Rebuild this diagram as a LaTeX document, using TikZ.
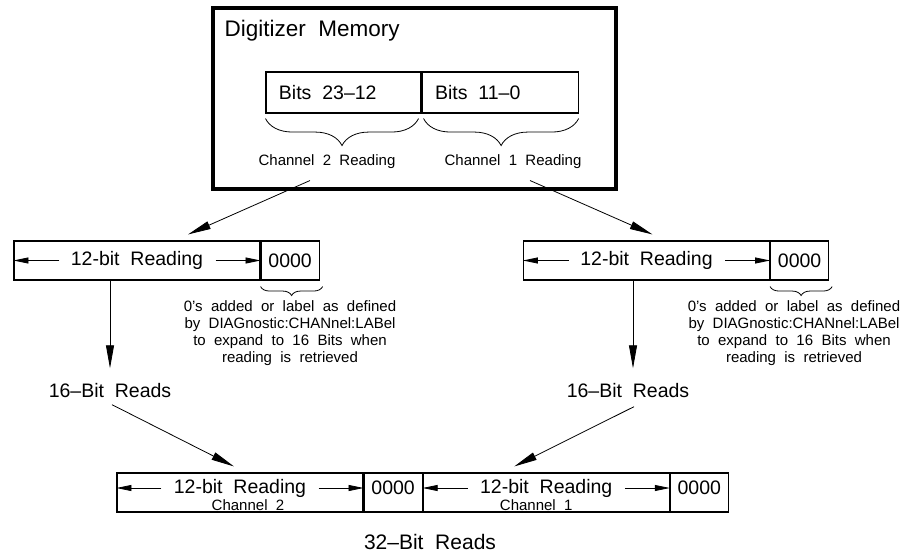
\documentclass[tikz,border=0pt]{standalone}
\usepackage{fontspec}
\setmainfont{Liberation Sans}[WordSpace=2]
\usetikzlibrary{arrows.meta,decorations.pathreplacing,positioning}
\tikzset{>={Triangle[length=23pt,width=8pt]}}
\tikzset{
  cell/.style={draw, line width=1.1pt, minimum height=39pt, inner sep=0pt},
  hdtxt/.style={font=\fontsize{22.5}{26}\selectfont},
  bigtxt/.style={font=\fontsize{19.5}{22}\selectfont},
  smalltxt/.style={font=\fontsize{15}{17}\selectfont},
  dimarrow/.style={-{Triangle[length=15pt,width=6pt]}, line width=0.8pt},
  flow/.style={->, line width=0.8pt},
  brc/.style={decorate, decoration={brace, mirror, amplitude=#1}, line width=0.8pt},
}

\begin{document}
\begin{tikzpicture}[x=1pt,y=-1pt]
\useasboundingbox (0,0) rectangle (912,556);

% digitizer memory
\node[draw, line width=3.2pt, minimum width=403pt, minimum height=181pt] (mem) at (414.5,98.5) {};
\node[hdtxt, anchor=base west] (memlbl) at (221,37) {Digitizer Memory};

\node[cell, minimum width=155pt, minimum height=41pt] (hibits) at (343.5,92.5) {};
\node[cell, minimum width=156pt, minimum height=41pt, right=0pt of hibits] (lobits) {};
\node[bigtxt, anchor=west] (hitxt) at ([xshift=10pt]hibits.west) {Bits 23--12};
\node[bigtxt, anchor=west] (lotxt) at ([xshift=10pt]lobits.west) {Bits 11--0};

\draw[brc=27pt] ([yshift=-5pt]hibits.south west) -- ([xshift=-3pt,yshift=-5pt]hibits.south east);
\draw[brc=27pt] ([xshift=2pt,yshift=-5pt]lobits.south west) -- ([yshift=-5pt]lobits.south east);

\node[smalltxt] (ch2lbl) at (327,162) {Channel 2 Reading};
\node[smalltxt] (ch1lbl) at (513,162) {Channel 1 Reading};

% 16-bit reads
\node[cell, minimum width=246pt] (rd2a) at (137,260.5) {};
\node[cell, minimum width=58pt, right=0pt of rd2a, bigtxt] (rd2b) {0000};
\node[bigtxt] (rd2t) at (rd2a.center) {12-bit Reading};
\draw[dimarrow] ([xshift=46pt]rd2a.west) -- (rd2a.west);
\draw[dimarrow] ([xshift=-45pt]rd2a.east) -- (rd2a.east);

\node[cell, minimum width=246pt] (rd1a) at (646.5,260.5) {};
\node[cell, minimum width=58pt, right=0pt of rd1a, bigtxt] (rd1b) {0000};
\node[bigtxt] (rd1t) at (rd1a.center) {12-bit Reading};
\draw[dimarrow] ([xshift=46pt]rd1a.west) -- (rd1a.west);
\draw[dimarrow] ([xshift=-45pt]rd1a.east) -- (rd1a.east);

\draw[flow] ([xshift=-17pt,yshift=-8pt]ch2lbl.south) -- ([xshift=51pt,yshift=6pt]rd2a.north);
\draw[flow] ([xshift=17pt,yshift=-8pt]ch1lbl.south) -- ([xshift=6pt,yshift=6pt]rd1a.north);

\draw[brc=9pt] ([yshift=-6pt]rd2b.south west) -- ([xshift=3pt,yshift=-6pt]rd2b.south east);
\draw[brc=9pt] ([yshift=-6pt]rd1b.south west) -- ([xshift=3pt,yshift=-6pt]rd1b.south east);

\node[smalltxt, align=center, anchor=north, inner sep=0pt] (note2) at (290,300)
  {0's added or label as defined\\by DIAGnostic:CHANnel:LABel\\to expand to 16 Bits when\\reading is retrieved};
\node[smalltxt, align=center, anchor=north, inner sep=0pt] (note1) at (794,300)
  {0's added or label as defined\\by DIAGnostic:CHANnel:LABel\\to expand to 16 Bits when\\reading is retrieved};

\node[bigtxt] (r16a) at (110,391) {16--Bit Reads};
\node[bigtxt] (r16b) at (628,391) {16--Bit Reads};
\draw[flow] (r16a |- rd2a.south) -- ([yshift=12pt]r16a.north);
\draw[flow] ([xshift=5pt]r16b.north |- rd1a.south) -- ([xshift=5pt,yshift=12pt]r16b.north);

% 32-bit reads
\node[cell, minimum width=246pt] (bt2a) at (240,492.5) {};
\node[cell, minimum width=58pt, right=0pt of bt2a] (bt2b) {};
\node[cell, minimum width=246pt, right=0pt of bt2b] (bt1a) {};
\node[cell, minimum width=58pt, right=0pt of bt1a] (bt1b) {};

\node[bigtxt] (bt2t) at ([yshift=4.5pt]bt2a.center) {12-bit Reading};
\node[bigtxt] (bt2z) at ([yshift=4.5pt]bt2b.center) {0000};
\node[smalltxt] (bt2c) at ([xshift=8pt,yshift=-12.5pt]bt2a.center) {Channel 2};
\draw[dimarrow] ([xshift=45pt,yshift=4.5pt]bt2a.west) -- ([yshift=4.5pt]bt2a.west);
\draw[dimarrow] ([xshift=-45pt,yshift=4.5pt]bt2a.east) -- ([yshift=4.5pt]bt2a.east);

\node[bigtxt] (bt1t) at ([yshift=4.5pt]bt1a.center) {12-bit Reading};
\node[bigtxt] (bt1z) at ([yshift=4.5pt]bt1b.center) {0000};
\node[smalltxt] (bt1c) at ([xshift=-10pt,yshift=-12.5pt]bt1a.center) {Channel 1};
\draw[dimarrow] ([xshift=45pt,yshift=4.5pt]bt1a.west) -- ([yshift=4.5pt]bt1a.west);
\draw[dimarrow] ([xshift=-45pt,yshift=4.5pt]bt1a.east) -- ([yshift=4.5pt]bt1a.east);

\draw[flow] ([xshift=2pt,yshift=-3pt]r16a.south) -- ([xshift=-6pt,yshift=6pt]bt2a.north);
\draw[flow] ([xshift=6pt,yshift=-5pt]r16b.south) -- ([xshift=-32pt,yshift=6pt]bt1a.north);

\node[font=\fontsize{21}{24}\selectfont] (r32) at (430,542) {32--Bit Reads};

\end{tikzpicture}
\end{document}
